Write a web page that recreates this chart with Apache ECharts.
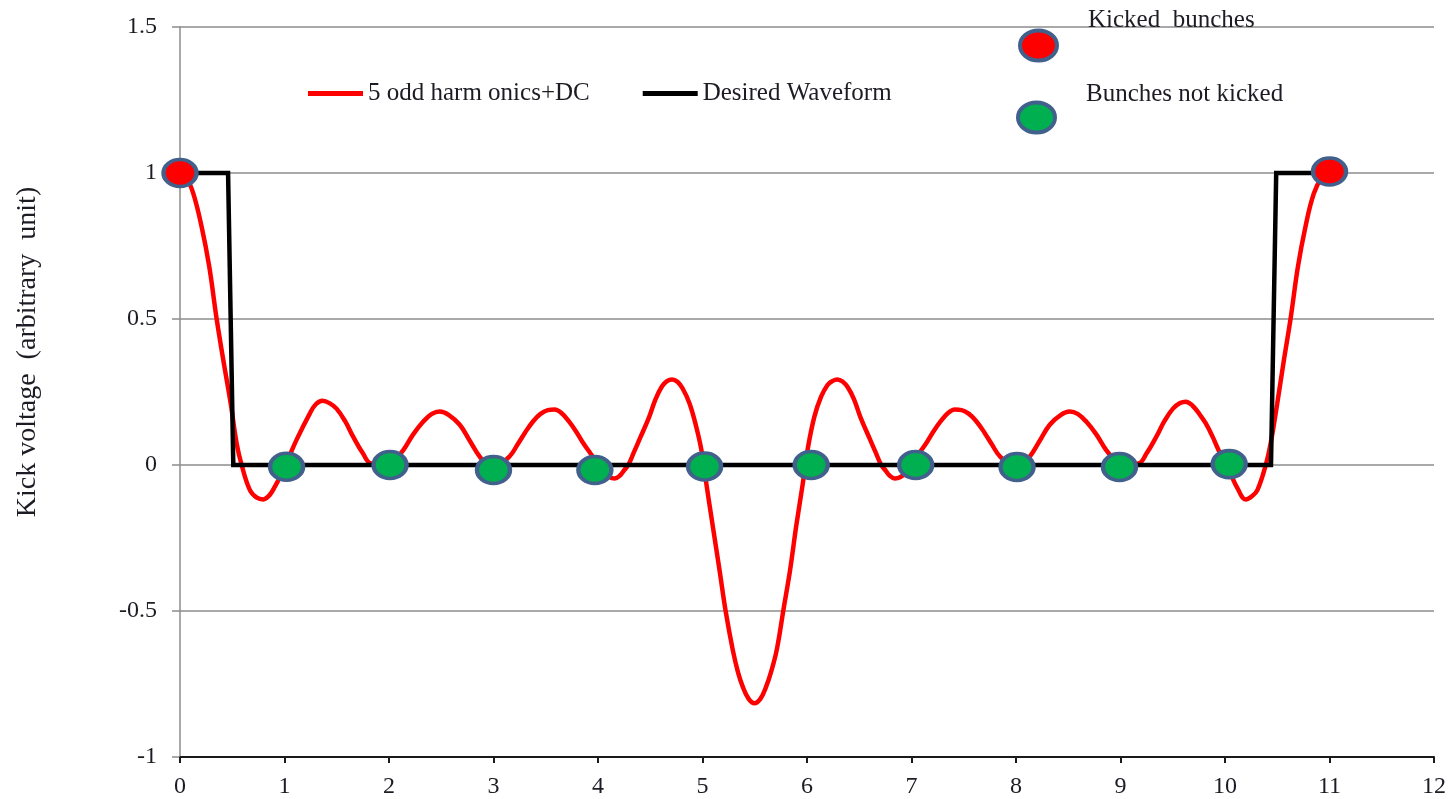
<!DOCTYPE html>
<html>
<head>
<meta charset="utf-8">
<title>Kick voltage waveform</title>
<script src="https://cdn.jsdelivr.net/npm/echarts@6/dist/echarts.min.js"></script>
<style>
  html, body { margin: 0; padding: 0; background: #ffffff; }
  #chart { width: 1449px; height: 799px; }
</style>
</head>
<body>
<div id="chart"></div>
<script>
// Series names and axis text
const harmonicsName = '5 odd harm onics+DC';
const desiredName = 'Desired Waveform';
const kickedName = 'Kicked  bunches';
const notKickedName = 'Bunches not kicked';
const yAxisTitle = 'Kick voltage  (arbitrary  unit)';

// Tick labels
const xTickLabels = ['0', '1', '2', '3', '4', '5', '6', '7', '8', '9', '10', '11', '12'];
const yTickLabels = ['-1', '-0.5', '0', '0.5', '1', '1.5'];

// Sum of 5 odd harmonics plus DC: [position, kick voltage]
const harmonicsCurve = [
  [0.000, 1.000], [0.060, 0.985], [0.127, 0.930], [0.207, 0.816], [0.280, 0.679],
  [0.350, 0.502], [0.414, 0.360], [0.485, 0.211], [0.542, 0.074], [0.590, 0.000],
  [0.669, -0.086], [0.735, -0.112], [0.797, -0.118], [0.855, -0.104], [0.908, -0.074],
  [0.965, -0.035], [1.020, 0.008], [1.115, 0.086], [1.243, 0.177], [1.300, 0.208],
  [1.364, 0.220], [1.430, 0.212], [1.498, 0.193], [1.580, 0.150], [1.657, 0.097],
  [1.750, 0.040], [1.830, 0.005], [1.950, 0.003], [2.040, 0.014], [2.135, 0.050],
  [2.230, 0.104], [2.326, 0.148], [2.410, 0.175], [2.486, 0.183], [2.570, 0.172],
  [2.677, 0.138], [2.770, 0.085], [2.868, 0.029], [2.950, 0.002], [3.050, 0.004],
  [3.155, 0.030], [3.230, 0.070], [3.300, 0.110], [3.380, 0.150], [3.450, 0.175],
  [3.520, 0.188], [3.585, 0.190], [3.650, 0.178], [3.720, 0.150], [3.790, 0.115],
  [3.850, 0.080], [3.950, 0.028], [4.050, -0.025], [4.110, -0.042], [4.160, -0.046],
  [4.210, -0.036], [4.250, -0.018], [4.290, 0.000], [4.345, 0.045], [4.400, 0.090],
  [4.490, 0.165], [4.550, 0.225], [4.610, 0.268], [4.660, 0.287], [4.710, 0.293],
  [4.760, 0.285], [4.810, 0.262], [4.876, 0.211], [4.940, 0.131], [4.990, 0.050],
  [5.035, -0.060], [5.099, -0.211], [5.163, -0.360], [5.220, -0.497], [5.290, -0.634],
  [5.340, -0.710], [5.385, -0.759], [5.440, -0.800], [5.497, -0.816], [5.555, -0.800],
  [5.609, -0.759], [5.655, -0.710], [5.710, -0.634], [5.774, -0.497], [5.838, -0.360],
  [5.896, -0.211], [5.959, -0.065], [6.007, 0.055], [6.070, 0.165], [6.135, 0.234],
  [6.198, 0.275], [6.240, 0.287], [6.290, 0.293], [6.340, 0.286], [6.390, 0.266],
  [6.450, 0.225], [6.510, 0.165], [6.600, 0.090], [6.655, 0.045], [6.710, 0.000],
  [6.750, -0.018], [6.790, -0.036], [6.840, -0.046], [6.890, -0.042], [6.950, -0.025],
  [7.050, 0.028], [7.150, 0.080], [7.210, 0.115], [7.280, 0.150], [7.350, 0.178],
  [7.415, 0.190], [7.480, 0.188], [7.550, 0.175], [7.620, 0.150], [7.700, 0.110],
  [7.770, 0.070], [7.845, 0.030], [7.950, 0.004], [8.050, 0.002], [8.132, 0.029],
  [8.230, 0.085], [8.323, 0.138], [8.430, 0.172], [8.514, 0.183], [8.590, 0.175],
  [8.674, 0.148], [8.770, 0.104], [8.865, 0.050], [8.960, 0.014], [9.050, 0.003],
  [9.170, 0.005], [9.250, 0.040], [9.343, 0.097], [9.420, 0.150], [9.502, 0.193],
  [9.570, 0.212], [9.624, 0.217], [9.690, 0.203], [9.760, 0.172], [9.815, 0.143],
  [9.880, 0.098], [9.940, 0.050], [10.040, -0.020], [10.120, -0.080], [10.198, -0.118],
  [10.255, -0.108], [10.310, -0.086], [10.390, 0.000], [10.437, 0.074], [10.500, 0.211],
  [10.564, 0.360], [10.628, 0.502], [10.698, 0.679], [10.770, 0.816], [10.850, 0.930],
  [10.930, 0.985], [11.000, 1.000]
];

// Ideal kicker pulse
const desiredWaveform = [
  [0, 1], [0.46, 1], [0.51, 0], [10.44, 0], [10.49, 1], [11, 1]
];

// Bunch positions and the voltage they see
const kickedBunches = [[0, 1.0], [11, 1.005]];
const notKickedBunches = [
  [1.02, -0.006], [2.01, 0.0], [3.0, -0.017], [3.97, -0.017], [5.02, -0.005],
  [6.04, 0.0], [7.04, 0.0], [8.01, -0.007], [8.99, -0.007], [10.04, 0.003]
];

const serif = '"Liberation Serif", "Times New Roman", serif';
const textColor = '#1c1c24';
const gridColor = '#8c8c8c';
const markerBorder = '#41618c';
const ellipse = 'path://M0,10 A10,10 0 1,1 20,10 A10,10 0 1,1 0,10 Z';

// Legend entry whose caption sits above and to the right of the marker
function raisedCaption(name, lineHeight) {
  return {
    data: [{ name: name, icon: ellipse }],
    itemWidth: 37, itemHeight: 30,
    symbolKeepAspect: false,
    itemStyle: { borderColor: markerBorder, borderWidth: 4 },
    formatter: n => '{t|' + n + '}\n{s| }',
    textStyle: {
      rich: {
        t: { fontFamily: serif, fontSize: 25, color: textColor, lineHeight: lineHeight, padding: [0, 0, 0, 26] },
        s: { fontFamily: serif, fontSize: 25, lineHeight: lineHeight }
      }
    }
  };
}

const chart = echarts.init(document.getElementById('chart'), null, { renderer: 'canvas' });

chart.setOption({
  animation: false,
  backgroundColor: '#ffffff',
  grid: { left: 180, right: 14, top: 27, bottom: 42 },
  xAxis: {
    type: 'value', min: 0, max: 12, interval: 1,
    axisLine: { onZero: false, lineStyle: { color: '#1a1a1a', width: 2 } },
    axisTick: { length: 6, lineStyle: { color: '#1a1a1a', width: 2 } },
    axisLabel: {
      fontFamily: serif, fontSize: 24, color: textColor, margin: 18,
      formatter: v => xTickLabels[Math.round(v)]
    },
    splitLine: { show: false }
  },
  yAxis: {
    type: 'value', min: -1, max: 1.5, interval: 0.5,
    axisLine: { show: true, lineStyle: { color: gridColor, width: 1.5 } },
    axisTick: { show: true, length: 8, lineStyle: { color: gridColor, width: 1.5 } },
    axisLabel: {
      fontFamily: serif, fontSize: 24, color: textColor, margin: 23,
      formatter: v => yTickLabels[Math.round((v + 1) / 0.5)]
    },
    splitLine: { lineStyle: { color: gridColor, width: 1.5 } }
  },
  legend: [
    {
      data: [{ name: harmonicsName, icon: 'rect' }, { name: desiredName, icon: 'rect' }],
      left: 303, top: 76, itemWidth: 55, itemHeight: 5, itemGap: 53,
      textStyle: { fontFamily: serif, fontSize: 25, color: textColor }
    },
    Object.assign({ left: 1013, top: 3 }, raisedCaption(kickedName, 50)),
    Object.assign({ left: 1011, top: 77 }, raisedCaption(notKickedName, 46))
  ],
  graphic: [{
    type: 'text', x: 28, y: 352, rotation: Math.PI / 2,
    style: {
      text: yAxisTitle, font: '28px ' + serif, fill: textColor,
      align: 'center', verticalAlign: 'middle'
    }
  }],
  series: [
    {
      name: harmonicsName, type: 'line', data: harmonicsCurve,
      smooth: 0.4, symbol: 'none', z: 2,
      lineStyle: { color: '#ff0000', width: 4.5 },
      itemStyle: { color: '#ff0000' }
    },
    {
      name: desiredName, type: 'line', data: desiredWaveform,
      symbol: 'none', z: 3,
      lineStyle: { color: '#000000', width: 4.5, join: 'miter' },
      itemStyle: { color: '#000000' }
    },
    {
      name: kickedName, type: 'scatter', data: kickedBunches,
      symbol: ellipse, symbolSize: [33, 27], symbolKeepAspect: false, z: 5, clip: false,
      itemStyle: { color: '#ff0000', borderColor: markerBorder, borderWidth: 4, opacity: 1 }
    },
    {
      name: notKickedName, type: 'scatter', data: notKickedBunches,
      symbol: ellipse, symbolSize: [33, 27], symbolKeepAspect: false, z: 5, clip: false,
      itemStyle: { color: '#00b050', borderColor: markerBorder, borderWidth: 4, opacity: 1 }
    }
  ]
});
</script>
</body>
</html>
